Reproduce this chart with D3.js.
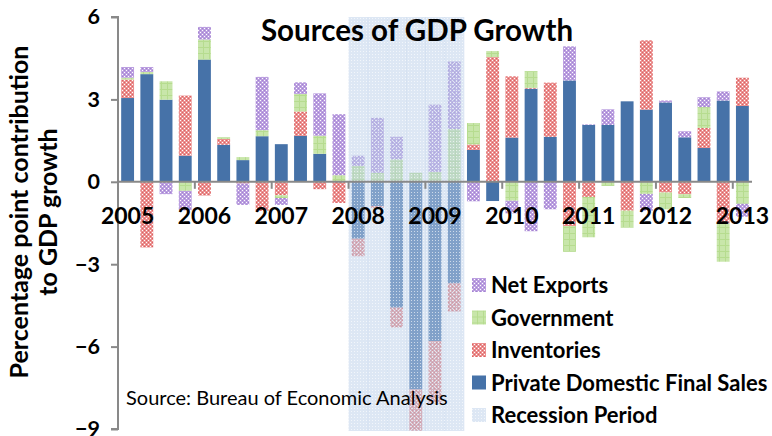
<!DOCTYPE html>
<html>
<head>
<meta charset="utf-8">
<script src="https://cdn.jsdelivr.net/npm/d3@7"></script>
<style>
  body { margin: 0; background: #fff; }
  svg text { font-family: Lato, "Open Sans", sans-serif; }
</style>
</head>
<body>
<div id="chart"></div>
<script>
// chart size
const width = 772;
const height = 436;

// quarters shown, 2005 Q1 to 2013 Q1
const quarters = ["2005Q1","2005Q2","2005Q3","2005Q4","2006Q1","2006Q2","2006Q3","2006Q4",
  "2007Q1","2007Q2","2007Q3","2007Q4","2008Q1","2008Q2","2008Q3","2008Q4",
  "2009Q1","2009Q2","2009Q3","2009Q4","2010Q1","2010Q2","2010Q3","2010Q4",
  "2011Q1","2011Q2","2011Q3","2011Q4","2012Q1","2012Q2","2012Q3","2012Q4","2013Q1"];

// percentage point contributions
const privateFinalSales = [3.05, 3.92, 2.99, 0.95, 4.45, 1.35, 0.79, 1.66, 1.37, 1.67, 1.02, 0.00,
  -2.07, -0.88, -4.58, -7.56, -5.80, -3.70, 1.16, -0.70, 1.61, 3.39, 1.64, 3.69,
  2.07, 2.07, 2.93, 2.63, 2.89, 1.62, 1.23, 2.96, 2.76];
const inventories = [0.67, -2.39, 0.00, 2.19, -0.50, 0.21, -0.06, -1.06, -0.49, 0.89, -0.27, -0.77,
  -0.64, -0.07, -0.72, -1.50, -2.27, -1.02, 0.20, 4.54, 2.23, 0.03, 1.97, -1.61,
  -0.55, 0.00, -1.05, 2.52, -0.39, -0.45, 0.73, -1.52, 1.03];
const government = [0.07, 0.08, 0.67, -0.33, 0.73, 0.06, 0.11, 0.22, -0.10, 0.64, 0.66, 0.24,
  0.58, 0.33, 0.82, 0.33, 0.36, 1.92, 0.78, 0.22, -0.69, 0.61, 0.00, -0.94,
  -1.47, -0.15, -0.62, -0.44, -0.61, -0.14, 0.76, -1.39, -0.80];
const netExports = [0.39, 0.18, -0.45, -0.71, 0.46, 0.00, -0.78, 1.94, -0.25, 0.42, 1.54, 2.22,
  0.37, 2.00, 0.82, 0.00, 2.45, 2.46, -0.71, 0.00, -0.46, -1.80, -1.00, 1.24,
  0.02, 0.57, 0.00, -0.61, 0.07, 0.22, 0.36, 0.33, -0.47];
// 1 = NBER recession quarter
const recession = [0,0,0,0,0,0,0,0,0,0,0,0, 1,1,1,1,1,1, 0,0,0,0,0,0,0,0,0,0,0,0,0,0,0];

const yearLabels = ["2005","2006","2007","2008","2009","2010","2011","2012","2013"];
const yTicks = [-9, -6, -3, 0, 3, 6];
const yTitleLines = ["Percentage point contribution", "to GDP growth"];

const seriesKeys = ["pdfs", "inv", "gov", "net"];
const seriesNames = {pdfs: "Private Domestic Final Sales", inv: "Inventories", gov: "Government", net: "Net Exports"};
const seriesFill = {pdfs: "#4672a8", inv: "url(#pat-inv)", gov: "url(#pat-gov)", net: "url(#pat-net)"};

const rows = quarters.map((q, i) => ({
  q: q, pdfs: privateFinalSales[i], inv: inventories[i], gov: government[i], net: netExports[i]
}));

// plot area
const plotLeft = 118, plotRight = 752, plotTop = 17, plotBottom = 429;

const x = d3.scaleBand().domain(quarters).range([plotLeft, plotRight]).paddingInner(0.33).paddingOuter(0.165);
const y = d3.scaleLinear().domain([-9, 6]).range([plotBottom, plotTop]);

const svg = d3.select("#chart").append("svg")
  .attr("width", width)
  .attr("height", height);

// patterns
const defs = svg.append("defs");

let p = defs.append("pattern").attr("id", "pat-net").attr("patternUnits", "userSpaceOnUse")
  .attr("width", 4).attr("height", 4);
p.append("rect").attr("width", 4).attr("height", 4).attr("fill", "#bb9fe0");
p.append("rect").attr("x", 0).attr("y", 0).attr("width", 1).attr("height", 1).attr("fill", "#fff");
p.append("rect").attr("x", 2).attr("y", 2).attr("width", 1).attr("height", 1).attr("fill", "#fff");
p.append("rect").attr("x", 2).attr("y", 0).attr("width", 1).attr("height", 1).attr("fill", "#a383d0");
p.append("rect").attr("x", 0).attr("y", 2).attr("width", 1).attr("height", 1).attr("fill", "#a383d0");

p = defs.append("pattern").attr("id", "pat-inv").attr("patternUnits", "userSpaceOnUse")
  .attr("width", 4).attr("height", 4);
p.append("rect").attr("width", 4).attr("height", 4).attr("fill", "#eb9090");
p.append("rect").attr("x", 0).attr("y", 0).attr("width", 1).attr("height", 1).attr("fill", "#fff");
p.append("rect").attr("x", 2).attr("y", 2).attr("width", 1).attr("height", 1).attr("fill", "#fff");
p.append("rect").attr("x", 2).attr("y", 0).attr("width", 1).attr("height", 1).attr("fill", "#dc6262");
p.append("rect").attr("x", 0).attr("y", 2).attr("width", 1).attr("height", 1).attr("fill", "#dc6262");

p = defs.append("pattern").attr("id", "pat-gov").attr("patternUnits", "userSpaceOnUse")
  .attr("width", 6).attr("height", 6);
p.append("rect").attr("width", 6).attr("height", 6).attr("fill", "#c8e6aa");
p.append("rect").attr("x", 5).attr("width", 1).attr("height", 6).attr("fill", "#b6dc8f");
p.append("rect").attr("y", 5).attr("width", 6).attr("height", 1).attr("fill", "#b6dc8f");

p = defs.append("pattern").attr("id", "pat-rec").attr("patternUnits", "userSpaceOnUse")
  .attr("width", 3).attr("height", 3);
p.append("rect").attr("width", 3).attr("height", 3).attr("fill", "#bcd0ea").attr("fill-opacity", 0.5);
p.append("rect").attr("width", 1).attr("height", 1).attr("fill", "#fff").attr("fill-opacity", 0.6);

defs.append("clipPath").attr("id", "plot-clip")
  .append("rect").attr("x", plotLeft).attr("y", plotTop).attr("width", plotRight - plotLeft).attr("height", plotBottom - plotTop + 2);

// stacked bars, negatives stacked downward
const stacked = d3.stack().keys(seriesKeys).offset(d3.stackOffsetDiverging)(rows);

svg.append("g").attr("clip-path", "url(#plot-clip)")
  .selectAll("g")
  .data(stacked)
  .join("g")
    .attr("fill", d => seriesFill[d.key])
  .selectAll("rect")
  .data(d => d)
  .join("rect")
    .attr("x", d => x(d.data.q))
    .attr("y", d => y(d[1]))
    .attr("width", x.bandwidth())
    .attr("height", d => y(d[0]) - y(d[1]));

// recession shading on top of the bars
const step = x.step();
svg.append("g")
  .selectAll("rect")
  .data(quarters.filter((q, i) => recession[i] === 1))
  .join("rect")
    .attr("x", d => x(d) - x.paddingInner() * step / 2)
    .attr("y", y(6))
    .attr("width", step + 0.5)
    .attr("height", y(-9) - y(6) + 2)
    .attr("fill", "url(#pat-rec)");

// y axis
const yAxis = svg.append("g")
  .attr("transform", `translate(${plotLeft},0)`)
  .call(d3.axisLeft(y).tickValues(yTicks).tickSize(7).tickPadding(11).tickFormat(d3.format("d")));
yAxis.select(".domain").attr("stroke", "#898989").attr("stroke-width", 2).attr("d", `M-7,${plotTop}H0V${plotBottom}H-7`);
yAxis.selectAll(".tick line").attr("stroke", "#898989").attr("stroke-width", 2);
yAxis.selectAll(".tick text")
  .attr("fill", "#000")
  .style("font-size", "21.5px")
  .style("font-weight", "bold");

// x axis line, year ticks between Q4 and Q1
svg.append("line")
  .attr("x1", plotLeft).attr("x2", plotRight)
  .attr("y1", y(0)).attr("y2", y(0))
  .attr("stroke", "#898989").attr("stroke-width", 2);

svg.append("g")
  .selectAll("line")
  .data(yearLabels)
  .join("line")
    .attr("x1", d => x(d + "Q1") - x.paddingInner() * step / 2)
    .attr("x2", d => x(d + "Q1") - x.paddingInner() * step / 2)
    .attr("y1", y(0))
    .attr("y2", y(0) + 7)
    .attr("stroke", "#898989").attr("stroke-width", 2);

svg.append("g")
  .selectAll("text")
  .data(yearLabels)
  .join("text")
    .attr("x", d => x(d + "Q1") + x.bandwidth() / 2)
    .attr("y", 224)
    .attr("text-anchor", "middle")
    .style("font-size", "23px")
    .style("font-weight", "bold")
    .text(d => d);

// title
svg.append("text")
  .attr("x", 417)
  .attr("y", 41)
  .attr("text-anchor", "middle")
  .style("font-size", "29.5px")
  .style("font-weight", "bold")
  .text("Sources of GDP Growth");

// y axis title, two lines, each centred on the plot
svg.append("g")
  .selectAll("text")
  .data(yTitleLines)
  .join("text")
    .attr("transform", (d, i) => `translate(${28 + i * 29},212) rotate(-90)`)
    .attr("text-anchor", "middle")
    .style("font-size", "25px")
    .style("font-weight", "bold")
    .text(d => d);

// source note
svg.append("text")
  .attr("x", 126)
  .attr("y", 405)
  .style("font-size", "20px")
  .text("Source: Bureau of Economic Analysis");

// legend
const legendItems = [
  {name: seriesNames.net, fill: seriesFill.net},
  {name: seriesNames.gov, fill: seriesFill.gov},
  {name: seriesNames.inv, fill: seriesFill.inv},
  {name: seriesNames.pdfs, fill: seriesFill.pdfs},
  {name: "Recession Period", fill: "url(#pat-rec)"}
];

const legend = svg.append("g")
  .selectAll("g")
  .data(legendItems)
  .join("g")
    .attr("transform", (d, i) => `translate(472,${285 + i * 32.5})`);

legend.append("rect")
  .attr("x", 0).attr("y", -7)
  .attr("width", 14).attr("height", 14)
  .attr("fill", d => d.fill);

legend.append("text")
  .attr("x", 19)
  .attr("y", 8)
  .style("font-size", "22px")
  .style("font-weight", "bold")
  .text(d => d.name);
</script>
</body>
</html>
